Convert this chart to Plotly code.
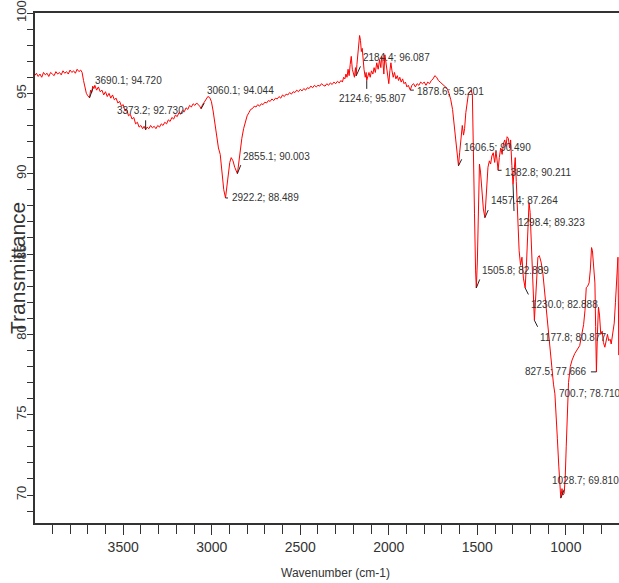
import plotly.graph_objects as go

# ---- FTIR spectrum: wavenumber (cm-1) and transmittance (%) ----
wn_high = [4000, 3990, 3980, 3970, 3960, 3950, 3940, 3930, 3920, 3910, 3900, 3890,
           3880, 3870, 3860, 3850, 3840, 3830, 3820, 3810, 3800, 3790, 3780, 3770,
           3760, 3750, 3740, 3732, 3724, 3716, 3708, 3700, 3684, 3678, 3672, 3665,
           3660, 3650, 3640, 3630, 3620, 3610, 3600, 3590, 3580, 3570, 3560, 3550,
           3540, 3530, 3520, 3510, 3500, 3490, 3480, 3470, 3460, 3450, 3440, 3430,
           3420, 3410, 3400, 3390, 3382, 3365, 3355, 3345, 3335, 3325, 3315, 3305,
           3295, 3285, 3275, 3265, 3255, 3245, 3235, 3225, 3215, 3205, 3195, 3185,
           3175, 3165, 3155, 3145, 3135, 3125, 3115, 3105, 3095, 3085, 3075, 3068]
t_high = [96.10, 96.25, 96.05, 96.20, 96.00, 96.30, 96.15, 96.25, 96.05, 96.30, 96.20, 96.10,
          96.35, 96.20, 96.30, 96.15, 96.40, 96.25, 96.35, 96.20, 96.45, 96.30, 96.40, 96.25,
          96.50, 96.35, 96.45, 96.30, 95.80, 95.30, 95.00, 94.85, 95.20, 95.05, 95.45, 95.30,
          95.50, 95.20, 95.40, 95.10, 95.20, 94.90, 95.10, 94.80, 95.00, 94.70, 94.90, 94.60,
          94.70, 94.40, 94.50, 94.20, 94.30, 93.90, 94.00, 93.60, 93.70, 93.40, 93.50, 93.10,
          93.20, 92.90, 93.00, 92.80, 92.95, 92.90, 92.80, 93.00, 92.85, 92.95, 92.80, 93.00,
          92.90, 93.10, 93.00, 93.20, 93.10, 93.35, 93.25, 93.50, 93.40, 93.65, 93.55, 93.80,
          93.70, 93.95, 93.85, 94.10, 94.00, 94.25, 94.15, 94.35, 94.25, 94.40, 94.30, 94.20]

wn_mid = [3052, 3042, 3032, 3022, 3012, 3002, 2992, 2982, 2972, 2962, 2952, 2942,
          2932, 2914, 2906, 2898, 2890, 2880, 2870, 2862, 2848, 2840, 2830, 2820,
          2810, 2800, 2790, 2780, 2770, 2760, 2750, 2740, 2730, 2720, 2710, 2700,
          2690, 2680, 2670, 2660, 2650, 2640, 2630, 2620, 2610, 2600, 2590, 2580,
          2570, 2560, 2550, 2540, 2530, 2520, 2510, 2500, 2490, 2480, 2470, 2460,
          2450, 2440, 2430, 2420, 2410, 2400, 2390, 2380, 2370, 2360, 2350, 2340,
          2330, 2320, 2310, 2300, 2290, 2280, 2270, 2262, 2255, 2248, 2242, 2236,
          2230, 2224, 2218, 2212, 2206, 2200, 2194, 2188, 2180, 2175, 2170, 2165,
          2160, 2155, 2150, 2145, 2140, 2133, 2128, 2120, 2112, 2105, 2098, 2090,
          2083, 2076, 2068, 2060, 2052, 2045, 2040, 2034, 2028, 2022, 2016, 2012,
          2006, 2000, 1994, 1988, 1982, 1975, 1968, 1960, 1952, 1945, 1938, 1930,
          1922, 1914, 1906, 1898, 1890, 1884]
t_mid = [94.30, 94.45, 94.60, 94.80, 94.75, 94.50, 93.90, 93.10, 92.30, 91.60, 91.20, 90.20,
         89.00, 89.20, 90.00, 90.70, 91.00, 90.80, 90.40, 90.20, 90.60, 91.40, 92.20, 92.80,
         93.30, 93.60, 93.80, 94.00, 94.05, 94.20, 94.15, 94.30, 94.20, 94.35, 94.30, 94.45,
         94.40, 94.55, 94.50, 94.65, 94.55, 94.70, 94.65, 94.80, 94.70, 94.90, 94.80, 94.95,
         94.90, 95.05, 94.95, 95.10, 95.05, 95.20, 95.10, 95.25, 95.15, 95.30, 95.20, 95.35,
         95.30, 95.45, 95.35, 95.50, 95.40, 95.50, 95.45, 95.60, 95.50, 95.45, 95.60, 95.50,
         95.65, 95.55, 95.70, 95.60, 95.75, 95.65, 95.80, 95.70, 96.00, 95.90, 96.20, 96.00,
         96.50, 96.10, 96.80, 97.30, 96.50, 96.20, 96.00, 96.60, 96.80, 97.40, 97.90, 98.60,
         98.30, 97.60, 97.80, 97.00, 96.50, 96.00, 96.30, 96.00, 96.30, 96.00, 96.40, 96.20,
         96.60, 96.30, 96.90, 96.50, 97.10, 96.60, 97.30, 97.10, 96.20, 97.40, 96.80, 96.40,
         96.00, 95.60, 96.40, 96.90, 96.40, 96.00, 96.30, 95.90, 96.10, 95.80, 96.00, 95.70,
         95.90, 95.60, 95.70, 95.40, 95.50, 95.30]

wn_low = [1870, 1860, 1850, 1840, 1830, 1820, 1810, 1800, 1790, 1780, 1770, 1760,
          1750, 1740, 1730, 1720, 1710, 1700, 1690, 1680, 1670, 1660, 1650, 1640,
          1630, 1620, 1612, 1600, 1592, 1585, 1578, 1572, 1565, 1558, 1550, 1542,
          1535, 1528, 1522, 1516, 1510, 1500, 1494, 1488, 1482, 1475, 1466, 1452,
          1446, 1440, 1432, 1425, 1418, 1410, 1402, 1395, 1388, 1376, 1368, 1360,
          1352, 1345, 1338, 1332, 1325, 1318, 1312, 1305, 1292, 1286, 1280, 1272,
          1264, 1256, 1248, 1240, 1222, 1215, 1208, 1202, 1195, 1188, 1182, 1172,
          1165, 1158, 1150, 1140, 1130, 1120, 1110, 1100, 1090, 1080, 1070, 1062,
          1055, 1048, 1040, 1034, 1022, 1016, 1010, 1004, 998, 992, 985, 975,
          965, 950, 935, 922, 910, 900, 892, 885, 877, 869, 862, 855,
          850, 843, 836, 832, 822, 816, 810, 803, 795, 788, 780, 772,
          765, 758, 750, 744, 738, 732, 727, 720, 712, 706, 698, 690]
t_low = [95.50, 95.60, 95.40, 95.60, 95.50, 95.70, 95.60, 95.70, 95.50, 95.70, 95.60, 95.80,
         95.90, 96.10, 96.00, 95.80, 95.70, 95.60, 95.50, 95.40, 95.30, 95.00, 94.60, 94.00,
         93.00, 91.80, 90.90, 91.30, 92.30, 93.00, 92.40, 92.80, 93.80, 94.50, 95.00, 95.10,
         95.20, 94.90, 92.00, 87.50, 84.00, 84.50, 88.00, 90.60, 90.10, 89.00, 87.80, 88.20,
         89.60, 90.40, 90.80, 90.60, 91.10, 91.30, 90.70, 91.40, 90.80, 91.00, 91.60, 91.20,
         91.90, 92.10, 91.70, 92.30, 92.20, 91.60, 92.10, 90.50, 90.20, 91.00, 89.50, 87.00,
         85.20, 84.30, 84.80, 83.50, 84.50, 86.50, 88.20, 87.60, 85.50, 83.00, 81.50, 82.00,
         84.00, 84.80, 84.90, 84.50, 83.80, 82.60, 81.20, 80.00, 78.80, 77.80, 76.90, 76.30,
         75.20, 73.50, 71.80, 70.40, 70.40, 70.00, 70.10, 71.00, 73.00, 75.50, 77.00, 78.00,
         78.40, 78.80, 79.10, 79.30, 80.00, 80.60, 81.50, 82.90, 83.00, 83.20, 84.00, 85.40,
         85.20, 84.00, 83.20, 80.50, 80.00, 81.70, 81.20, 80.00, 80.20, 79.50, 79.20, 79.60,
         80.00, 79.60, 79.70, 79.40, 80.00, 80.40, 80.70, 82.00, 84.00, 84.80, 82.00, 81.00]

# ---- labelled peaks (wavenumber; transmittance) ----
peak_wn = [3690.1, 3373.2, 3060.1, 2922.2, 2855.1, 2184.4, 2124.6, 1878.6, 1606.5,
           1382.8, 1457.4, 1298.4, 1505.8, 1230.0, 1177.8, 827.5, 700.7, 1028.7]
peak_t = [94.720, 92.730, 94.044, 88.489, 90.003, 96.087, 95.807, 95.201, 90.490,
          90.211, 87.264, 89.323, 82.889, 82.888, 80.877, 77.666, 78.710, 69.810]

# label placement: text offset and leader-line offset in screen pixels (y down)
text_dx = [3, -31, 4, 4, 4, 5, -30, 5, 4, 5, 4, 3, 4, 4, 4, -7, -62, -11]
text_dy = [-17, -19, -18, 0, -17, -18, 18, 1, -18, 2, -17, 38, -17, 17, 17, 0, 38, -18]
text_anchor = ["left"] * 15 + ["right", "left", "left"]
lead_dx = [4, 0, 4, 4, 4, 5, 0, 5, 4, 5, 4, 1, 4, 4, 4, -7, 0, 4]
lead_dy = [-11, -11, -7, 0, -10, -11, 10, 0, -8, 0, -9, 28, -10, 8, 8, 0, 0, -10]

# merge the peak points into the spectrum, ordered by wavenumber
pairs = list(zip(wn_high + wn_mid + wn_low, t_high + t_mid + t_low))
pairs += list(zip(peak_wn, peak_t))
pairs.sort(key=lambda p: -p[0])
wn = [p[0] for p in pairs]
tr = [p[1] for p in pairs]

FONT = "Liberation Sans, Arial, sans-serif"

fig = go.Figure()
fig.add_trace(go.Scatter(x=wn, y=tr, mode="lines",
                         line=dict(color="#ff0000", width=1),
                         hoverinfo="skip", showlegend=False))

for i, (w, t) in enumerate(zip(peak_wn, peak_t)):
    if lead_dx[i] or lead_dy[i]:
        fig.add_annotation(x=w, y=t, text="", showarrow=True, arrowhead=0,
                           arrowwidth=1, arrowcolor="#222222",
                           ax=lead_dx[i], ay=lead_dy[i], standoff=0)
    fig.add_annotation(x=w, y=t, text=f"{w:.1f}; {t:.3f}", showarrow=False,
                       xanchor=text_anchor[i], yanchor="middle",
                       xshift=text_dx[i], yshift=-text_dy[i],
                       font=dict(family=FONT, size=10, color="#333333"))

# axis titles
fig.add_annotation(xref="paper", yref="paper", x=0.5, y=0, xshift=8, yshift=-50,
                   text="Wavenumber (cm-1)", showarrow=False,
                   xanchor="center", yanchor="middle",
                   font=dict(family=FONT, size=12, color="#333333"))
fig.add_annotation(xref="paper", yref="paper", x=0, y=0.5, xshift=-18,
                   text="Transmittance", showarrow=False, textangle=-90,
                   xanchor="center", yanchor="middle",
                   font=dict(family=FONT, size=21, color="#333333"))

fig.update_layout(
    width=619, height=583,
    margin=dict(l=35, r=0, t=13, b=60),
    paper_bgcolor="white", plot_bgcolor="white",
    xaxis=dict(range=[3998, 700], showgrid=False, zeroline=False,
               showline=True, linecolor="#333333", linewidth=1.5, mirror=True,
               ticks="outside", ticklen=10, tickwidth=1, tickcolor="#333333",
               tick0=0, dtick=500,
               minor=dict(dtick=100, ticks="outside", ticklen=9, tickcolor="#333333",
                          tickwidth=1, showgrid=False),
               tickfont=dict(family=FONT, size=14, color="#333333")),
    yaxis=dict(range=[68.26, 100], showgrid=False, zeroline=False,
               showline=True, linecolor="#333333", linewidth=1.5,
               ticks="outside", ticklen=6, tickwidth=1, tickcolor="#333333",
               tick0=0, dtick=5, tickangle=-90, ticklabelstandoff=-4,
               minor=dict(dtick=1, ticks="outside", ticklen=6, tickcolor="#333333",
                          tickwidth=1, showgrid=False),
               tickfont=dict(family=FONT, size=13, color="#333333")),
)

fig.write_html("out.html")
